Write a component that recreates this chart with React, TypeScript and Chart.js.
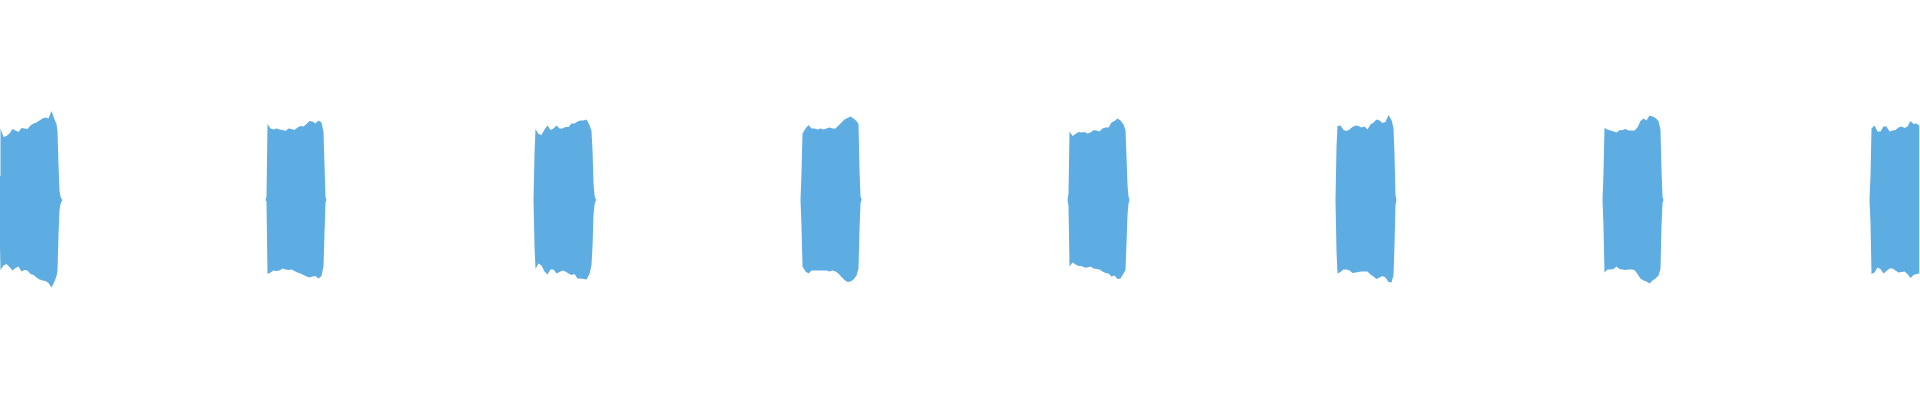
import { useEffect, useRef } from 'react'
import { Chart, registerables } from 'chart.js'

Chart.register(...registerables)

// onset (first full column) of each tone burst, in sample columns
const burstStarts = [0, 267, 535, 802, 1069, 1337, 1604, 1871]

// where the envelope was read inside a burst, relative to its onset
const envelopeOffsets = [
  -1, 0, 3, 6, 9, 12, 15, 18, 21, 24, 27, 30, 33, 36, 39, 42, 45, 48, 51, 54, 56, 57, 58, 59, 60, 61,
]

// upper envelope (% of full scale)
const peaks0 = [12, 35.8, 31.5, 32, 33.3, 35.5, 34.7, 34, 36, 35.7, 35.5, 37.3, 38.3, 38.7, 39.8, 40.7, 41.3, 40.8, 44.5, 40.3, 38, 34.2, 18, 4.5, 1.8, 0.5]
const peaks1 = [1.7, 38, 35.8, 35.3, 35.8, 35.3, 35, 34.5, 35.8, 35.5, 35, 36.2, 37, 36.7, 38, 39.5, 39.2, 38.3, 39.7, 38.7, 34, 17.5, 1.5, 0, 0, 0]
const peaks2 = [23.3, 35.5, 33, 32.5, 35.3, 37.3, 35, 35.7, 37.3, 35.8, 35.7, 36.5, 36.5, 38.2, 38.3, 39.2, 39.7, 39.7, 40.3, 37.5, 34.5, 25, 8.5, 2.5, 0.5, 0]
const peaks3 = [13.7, 33.3, 35.8, 37.5, 35.8, 35.8, 35.3, 35.8, 35.3, 35.8, 36.2, 35.8, 35.8, 37.2, 38.7, 40.3, 41, 41.7, 40.8, 39.5, 38, 15, 1.7, 0.3, 0, 0]
const peaks4 = [3.3, 34.2, 32, 33, 34, 33.8, 34, 33.3, 33.7, 34.9, 34.7, 34.3, 35.8, 36.3, 36.2, 38.7, 39.5, 40.8, 39.7, 37.7, 35, 21.7, 7.5, 1.7, 0, 0]
const peaks5 = [26.7, 37, 37.2, 35, 34.5, 35.3, 36.5, 37.2, 37, 36.2, 36.7, 35.2, 37.7, 38.7, 40.3, 39.7, 38.5, 39, 42.5, 40, 36, 23, 2.5, 0, 0, 0]
const peaks6 = [13.7, 36, 35.2, 34.7, 34.2, 33.8, 34.9, 35, 35.5, 34.8, 34.7, 34.7, 36.2, 39.5, 40.7, 39.7, 42.3, 41.8, 41, 39.5, 35, 15, 1.7, 0, 0, 0]
const peaks7 = [12, 35.8, 37.2, 34.2, 34.2, 36.7, 36.7, 34.3, 34.7, 35, 36.3, 36.7, 36, 36.7, 39.5, 38, 38.3, 37]

// lower envelope (% of full scale)
const troughs0 = [-12, -35, -32.8, -32, -33.5, -35.2, -34, -33.3, -35.7, -35, -35.2, -37, -37.5, -38.7, -39.8, -40.3, -40.5, -41.5, -43.7, -40.8, -38, -35.3, -17.5, -5, -2, -0.8]
const troughs1 = [-0.8, -37, -36.3, -35.3, -35.5, -35.3, -34.2, -34.7, -35, -34.7, -35.5, -36.2, -36.7, -37.5, -38.3, -38.7, -38.3, -38, -39.2, -38, -33.3, -16.7, -1.3, 0, 0, 0]
const troughs2 = [-23.3, -34.5, -31.8, -32.8, -35.7, -37.3, -34.7, -34.7, -36.8, -36, -35.3, -35.8, -36.7, -37.5, -37, -39.2, -39.2, -39.5, -39.7, -37, -32.5, -23.3, -7.5, -2.5, -0.5, 0]
const troughs3 = [-13.3, -33.3, -35.8, -36.7, -35.3, -35.3, -35.3, -35.2, -35.2, -35.2, -35.8, -35.2, -35.7, -36.8, -38.5, -40, -41, -40.8, -39.7, -37.8, -34.2, -15, -1.5, 0, 0, 0]
const troughs4 = [-3, -33.3, -31.3, -32.2, -33, -33, -33.8, -33.7, -33.2, -34.3, -34.5, -34.7, -35.7, -36.5, -36.8, -38.3, -37.7, -39.5, -39.2, -36.7, -35, -21.7, -7.5, -1.7, 0, 0]
const troughs5 = [-25.8, -36.7, -36, -34.7, -34.7, -35.3, -36.5, -36.2, -36, -35.7, -35.8, -35.7, -37.2, -38.2, -39.5, -38.8, -38, -38.8, -41, -41.3, -37.5, -22.5, -2.5, 0, 0, 0]
const troughs6 = [-13.3, -36.2, -34.7, -34.8, -34.5, -33.3, -34.5, -34.7, -35, -34.8, -34.7, -35, -37, -39.2, -40.2, -40.8, -41.7, -40.2, -39.3, -37.8, -34.2, -13.3, -1.5, 0, 0, 0]
const troughs7 = [-11.3, -37, -36.3, -33.8, -34.5, -36.7, -35.5, -34.2, -34.3, -35.2, -36.3, -36, -35.7, -37, -39, -37.5, -37, -36.8]

const peaks = [peaks0, peaks1, peaks2, peaks3, peaks4, peaks5, peaks6, peaks7]
const troughs = [troughs0, troughs1, troughs2, troughs3, troughs4, troughs5, troughs6, troughs7]

const WAVE_COLOR = '#5dade2'
const HIDDEN = 'rgba(0,0,0,0)'

// silence before and after every burst, envelope values in between
const buildEnvelope = (series: number[][]) => {
  const pts: { x: number; y: number }[] = []
  series.forEach((vals, b) => {
    const start = burstStarts[b]
    pts.push({ x: start - 2, y: 0 })
    vals.forEach((v, i) => pts.push({ x: start + envelopeOffsets[i], y: v }))
    if (vals.length === envelopeOffsets.length) pts.push({ x: start + 62, y: 0 })
  })
  return pts
}

const envelopeStyle = {
  fill: 'origin' as const,
  backgroundColor: WAVE_COLOR,
  borderColor: HIDDEN,
  borderWidth: 0,
  pointRadius: 0,
  tension: 0,
}

// axes stay on but draw nothing and take no room
const hiddenAxis = {
  display: true,
  ticks: { display: false },
  grid: { color: HIDDEN, drawTicks: false },
  border: { display: false },
}

const Waveform = () => {
  const canvasRef = useRef<HTMLCanvasElement>(null)

  useEffect(() => {
    const chart = new Chart(canvasRef.current!, {
      type: 'line',
      data: {
        datasets: [
          { data: buildEnvelope(peaks), ...envelopeStyle },
          { data: buildEnvelope(troughs), ...envelopeStyle },
        ],
      },
      options: {
        animation: false,
        responsive: true,
        maintainAspectRatio: false,
        layout: { padding: 0 },
        plugins: {
          legend: { display: false },
          tooltip: { enabled: false },
        },
        scales: {
          x: { type: 'linear', min: -0.5, max: 1919.5, ...hiddenAxis },
          y: { min: -100, max: 100, ...hiddenAxis },
        },
      },
    })

    return () => chart.destroy()
  }, [])

  return (
    <div style={{ position: 'fixed', left: 0, top: 0, width: '100vw', height: '100vh', background: '#fff' }}>
      <canvas ref={canvasRef}></canvas>
    </div>
  )
}

export default function App() {
  return <Waveform />
}
